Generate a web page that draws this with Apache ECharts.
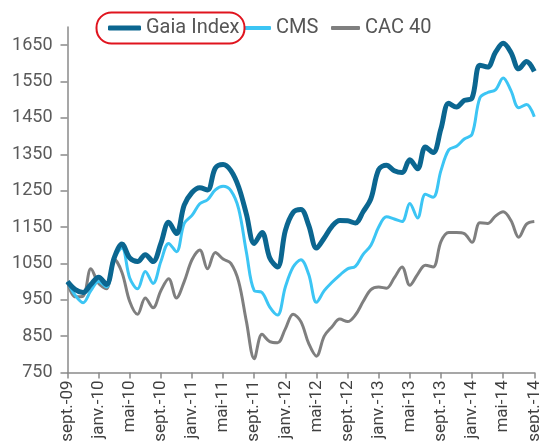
<!DOCTYPE html>
<html>
<head>
<meta charset="utf-8">
<script src="https://cdn.jsdelivr.net/npm/echarts@6/dist/echarts.min.js"></script>
<style>
html,body{margin:0;padding:0;background:#fff;}
#chart{width:539px;height:445px;}
</style>
</head>
<body>
<div id="chart"></div>
<script>
// Month labels (French "mmm-yy") from sept. 2009 to sept. 2014
var monthNames = ['janv.','févr.','mars','avr.','mai','juin','juil.','août','sept.','oct.','nov.','déc.'];
var startYear = 2009, startMonth = 8, monthCount = 61;
var categories = [];
for (var k = 0; k < monthCount; k++) {
  var m = (startMonth + k) % 12;
  var y = startYear + Math.floor((startMonth + k) / 12);
  categories.push(monthNames[m] + '-' + String(y).slice(2));
}

var gaiaIndex = [1000,978,970,992,1012,992,1065,1103,1065,1055,1074,1055,1105,1163,1132,1210,
  1245,1258,1252,1312,1322,1305,1260,1185,1105,1135,1065,1040,1140,1190,1198,1155,1092,1120,
  1152,1168,1167,1161,1192,1228,1308,1320,1305,1300,1335,1310,1370,1355,1420,1490,1480,1498,
  1505,1595,1590,1630,1655,1630,1585,1605,1578];
var cms = [1000,962,942,975,1000,985,1062,1092,1010,980,1028,995,1055,1105,1082,1160,
  1182,1214,1225,1252,1262,1250,1200,1080,975,970,930,908,985,1040,1060,1020,943,975,
  998,1018,1035,1042,1075,1100,1150,1178,1172,1165,1215,1175,1240,1232,1305,1362,1372,1392,
  1405,1505,1520,1527,1560,1525,1478,1487,1453];
var cac40 = [1000,958,960,1035,995,980,1062,1025,945,910,955,928,975,1008,955,1000,
  1060,1087,1035,1080,1062,1050,1000,890,788,855,835,832,870,910,890,830,795,850,
  876,897,890,908,945,978,985,982,1010,1040,990,1020,1045,1040,1110,1135,1135,1132,
  1108,1162,1160,1180,1192,1168,1122,1158,1165];
var yTickValues = [750,850,950,1050,1150,1250,1350,1450,1550,1650];
var seriesNames = ['Gaia Index','CMS','CAC 40'];
var seriesColors = ['#0b6690','#3cc5f4','#7f7f7f'];

var chart = echarts.init(document.getElementById('chart'), null, {renderer:'canvas'});
var fontFam = 'Roboto, "Noto Sans", sans-serif';
var legendText = {fontFamily: fontFam, fontSize: 20, color: '#555'};
chart.setOption({
  animation: false,
  backgroundColor: '#fff',
  grid: {left: 67.5, right: 4.7, top: 27, bottom: 72.5, containLabel: false, outerBoundsMode: 'none'},
  legend: [
    {top: 13, left: 103, itemWidth: 33, itemHeight: 5, icon: 'roundRect', textStyle: legendText, data: [seriesNames[0]]},
    {top: 13, left: 239, itemWidth: 27, itemHeight: 4, icon: 'roundRect', textStyle: legendText, data: [seriesNames[1]]},
    {top: 13, left: 326, itemWidth: 29, itemHeight: 4, icon: 'roundRect', textStyle: legendText, data: [seriesNames[2]]}
  ],
  xAxis: {
    type: 'category',
    data: categories,
    boundaryGap: false,
    axisLine: {lineStyle: {color: '#8a8a8a', width: 1.5}},
    axisTick: {interval: 3, length: 6, lineStyle: {color: '#8a8a8a', width: 1.5}},
    axisLabel: {interval: 3, rotate: 90, margin: 8, fontFamily: fontFam, fontSize: 17, color: '#404040'}
  },
  yAxis: {
    type: 'value',
    min: 750, max: 1700, interval: 50,
    splitLine: {show: false},
    axisLine: {show: true, lineStyle: {color: '#8a8a8a', width: 1.5}},
    axisTick: {show: true, length: 7, customValues: yTickValues, lineStyle: {color: '#8a8a8a', width: 1.5}},
    axisLabel: {customValues: yTickValues, margin: 15, fontFamily: fontFam, fontSize: 18, color: '#5a5a5a',
      formatter: function (v) { return String(v); }}
  },
  series: [
    {name: seriesNames[0], type: 'line', data: gaiaIndex, smooth: 0.35, symbol: 'none',
     itemStyle: {color: seriesColors[0]}, lineStyle: {width: 5, color: seriesColors[0]}, z: 4},
    {name: seriesNames[1], type: 'line', data: cms, smooth: 0.35, symbol: 'none',
     itemStyle: {color: seriesColors[1]}, lineStyle: {width: 3, color: seriesColors[1]}, z: 3},
    {name: seriesNames[2], type: 'line', data: cac40, smooth: 0.35, symbol: 'none',
     itemStyle: {color: seriesColors[2]}, lineStyle: {width: 3, color: seriesColors[2]}, z: 2}
  ],
  graphic: [{
    type: 'rect', left: 94, top: 10,
    shape: {width: 148, height: 31, r: 15},
    style: {fill: 'none', stroke: '#e0141e', lineWidth: 2},
    z: 100
  }]
});
</script>
</body>
</html>
